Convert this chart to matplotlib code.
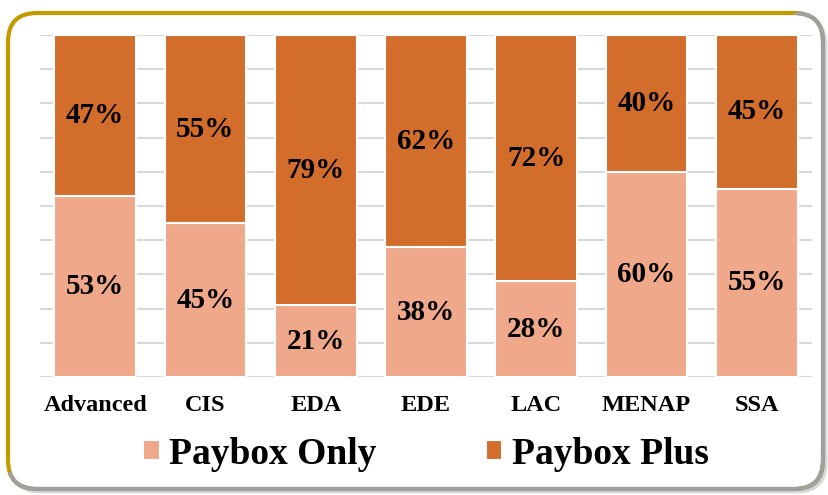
import matplotlib.pyplot as plt
import numpy as np
from matplotlib.patches import FancyBboxPatch, Polygon

regions = ["Advanced", "CIS", "EDA", "EDE", "LAC", "MENAP", "SSA"]
paybox_only = [53, 45, 21, 38, 28, 60, 55]
paybox_plus = [47, 55, 79, 62, 72, 40, 45]

c_only = "#F0A88A"
c_plus = "#D36D2C"

plt.rcParams["font.family"] = ["Liberation Serif", "DejaVu Serif"]
plt.rcParams["font.weight"] = "bold"

fig = plt.figure(figsize=(8.29, 4.95), dpi=100)
W, H = 829, 495

# frame: shadow, white box with gold top/left edge, grey bottom/right edge
x0, x1, y0, y1 = 8 / W, 823 / W, 1 - 489 / H, 1 - 13 / H
shadow = FancyBboxPatch((x0 + 3 / W, y0 - 3 / H), x1 - x0, y1 - y0,
                        boxstyle="round,pad=0,rounding_size=0.035",
                        transform=fig.transFigure, facecolor="#c8c8c8",
                        edgecolor="#d8d8d8", lw=2, mutation_aspect=W / H, zorder=-3)
fig.patches.append(shadow)
box = FancyBboxPatch((x0, y0), x1 - x0, y1 - y0,
                     boxstyle="round,pad=0,rounding_size=0.035",
                     transform=fig.transFigure, facecolor="white",
                     edgecolor="#C49A00", lw=3, mutation_aspect=W / H, zorder=-2)
fig.patches.append(box)
grey = FancyBboxPatch((x0, y0), x1 - x0, y1 - y0,
                      boxstyle="round,pad=0,rounding_size=0.035",
                      transform=fig.transFigure, facecolor="none",
                      edgecolor="#a0a0a0", lw=3, mutation_aspect=W / H, zorder=-1)
fig.patches.append(grey)
clip = Polygon([(818 / W, 1.0), (1.0, 1.0), (1.0, 0.0), (0.0, 0.0), (0.0, 1 - 478 / H)],
               closed=True, transform=fig.transFigure)
grey.set_clip_path(clip)

ax = fig.add_axes([40 / W, 1 - 377 / H, 772 / W, 342 / H])
ax.set_facecolor("none")
x = np.arange(len(regions))
w = 0.74
b1 = ax.bar(x, paybox_only, w, color=c_only, edgecolor="white", lw=1.5,
            label="Paybox Only", zorder=3)
b2 = ax.bar(x, paybox_plus, w, bottom=paybox_only, color=c_plus, edgecolor="white",
            lw=1.5, label="Paybox Plus", zorder=3)

for i in range(len(regions)):
    ax.text(x[i], paybox_only[i] / 2, f"{paybox_only[i]}%", ha="center", va="center",
            fontsize=21, fontweight="bold", zorder=4)
    ax.text(x[i], paybox_only[i] + paybox_plus[i] / 2, f"{paybox_plus[i]}%",
            ha="center", va="center", fontsize=21, fontweight="bold", zorder=4)

ax.set_xlim(-0.5, len(regions) - 0.5)
ax.set_ylim(0, 100)
ax.set_yticks(np.arange(0, 101, 10))
ax.yaxis.grid(True, color="#d9d9d9", lw=1.5, zorder=0)
ax.set_axisbelow(True)
ax.tick_params(axis="y", left=False, labelleft=False)
ax.tick_params(axis="x", length=0, pad=13, labelsize=17.5)
ax.set_xticks(x)
ax.set_xticklabels(regions, fontweight="bold")
for s in ax.spines.values():
    s.set_visible(False)

fig.legend(handles=[b1, b2], loc="center", bbox_to_anchor=(426 / W, 1 - 454 / H),
           ncol=2, frameon=False, prop={"size": 27, "weight": "bold"},
           handlelength=0.45, handleheight=0.45, handletextpad=0.25, columnspacing=2.9)

fig.savefig("out.png", dpi=100)
